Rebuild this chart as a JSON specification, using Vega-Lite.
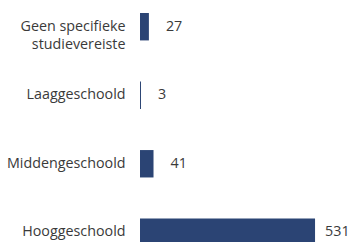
{
  "$schema": "https://vega.github.io/schema/vega-lite/v6.json",
  "autosize": {"type": "none"},
  "padding": {"left": 140, "top": 0, "right": 0, "bottom": 0},
  "width": 209,
  "height": 259,
  "background": "white",
  "config": {"view": {"stroke": null}, "font": "Open Sans"},
  "data": {"values": [
    {"cat": "Geen specifieke studievereiste", "n": 27},
    {"cat": "Laaggeschoold", "n": 3},
    {"cat": "Middengeschoold", "n": 41},
    {"cat": "Hooggeschoold", "n": 531}
  ]},
  "encoding": {
    "y": {"field": "cat", "type": "nominal", "sort": null,
      "scale": {"paddingInner": 0.6, "paddingOuter": 0.19},
      "axis": {"title": null, "domain": false, "ticks": false, "labelPadding": 15,
        "labelFontSize": 14.3, "labelColor": "#3a3a3a", "labelFont": "Open Sans", "labelLineHeight": 18,
        "labelExpr": "datum.value == 'Geen specifieke studievereiste' ? ['Geen specifieke', 'studievereiste'] : datum.value"}},
    "x": {"field": "n", "type": "quantitative", "scale": {"domain": [0, 634], "nice": false}, "axis": null}
  },
  "layer": [
    {"mark": {"type": "bar", "color": "#2b4474"}},
    {"transform": [{"filter": "datum.n < 500"}],
     "mark": {"type": "text", "align": "left", "dx": 17, "fontSize": 14.3, "color": "#3a3a3a", "font": "Open Sans"},
     "encoding": {"text": {"field": "n", "type": "quantitative"}}},
    {"transform": [{"filter": "datum.n >= 500"}],
     "mark": {"type": "text", "align": "left", "dx": 10, "fontSize": 14.3, "color": "#3a3a3a", "font": "Open Sans"},
     "encoding": {"text": {"field": "n", "type": "quantitative"}}}
  ]
}
